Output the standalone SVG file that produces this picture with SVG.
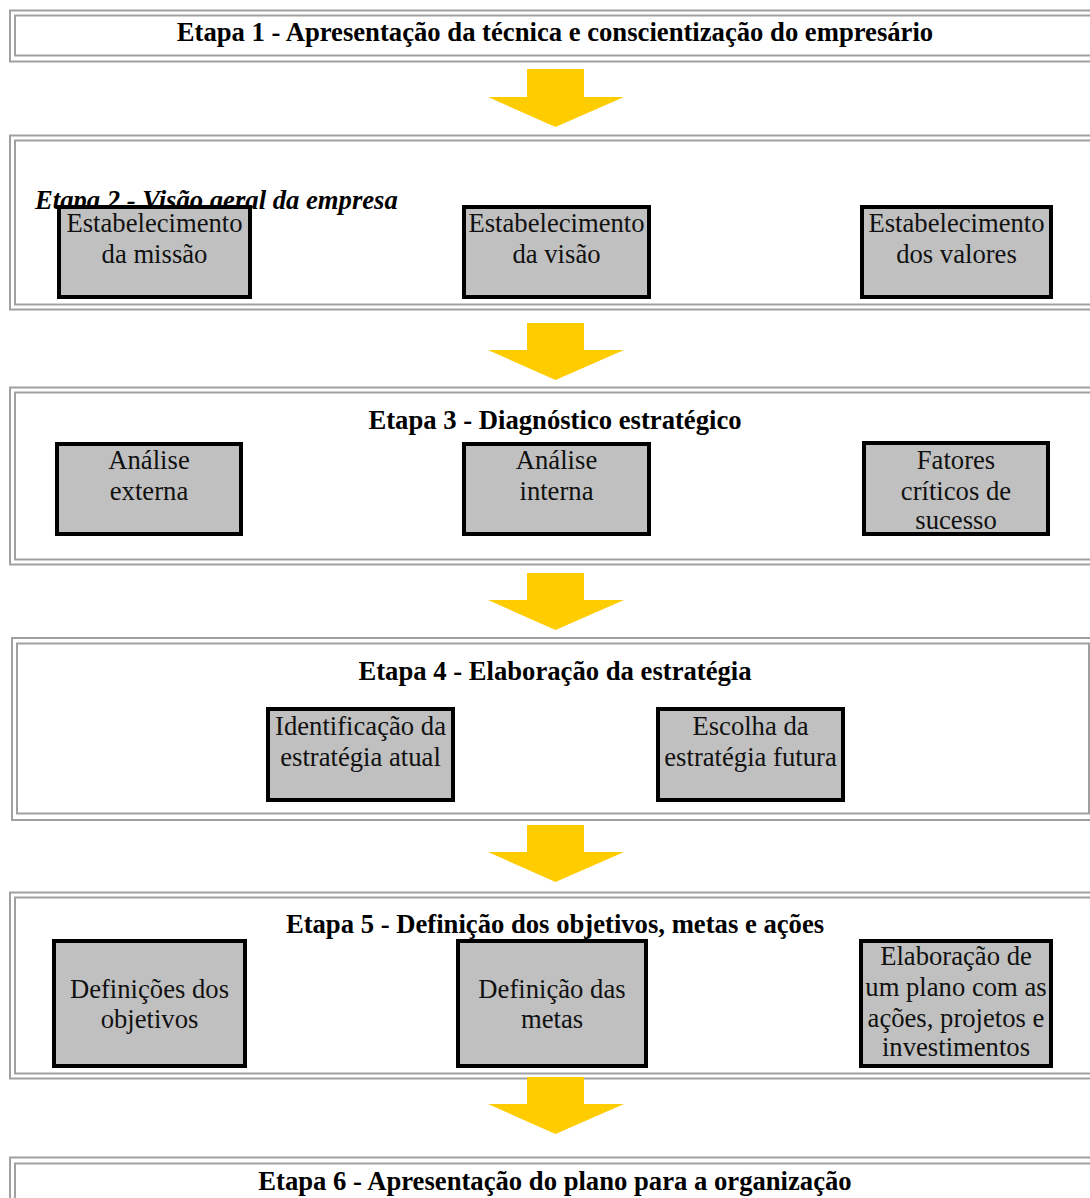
<svg xmlns="http://www.w3.org/2000/svg" width="1090" height="1198" viewBox="0 0 1090 1198">
<style>
.frame{fill:none;stroke:#a0a0a0;stroke-width:2}
.box{fill:#c0c0c0;stroke:#000;stroke-width:4}
.title{font-family:"Liberation Serif","Times New Roman",serif;font-size:26.67px;font-weight:bold;fill:#000;text-anchor:middle}
.t2{font-family:"Liberation Serif","Times New Roman",serif;font-size:26.67px;font-weight:bold;font-style:italic;fill:#000}
.lbl{font-family:"Liberation Serif","Times New Roman",serif;font-size:26.67px;fill:#111;text-anchor:middle}
.arrow{fill:#ffcc00}
</style>
<rect width="1090" height="1198" fill="#fff"/>
<g id="etapa1">
<rect class="frame" x="10" y="10.5" width="1090" height="51"/>
<rect class="frame" x="15" y="15.5" width="1090" height="40"/>
<text class="title" x="555" y="41">Etapa 1 - Apresentação da técnica e conscientização do empresário</text>
</g>
<g id="etapa2">
<rect class="frame" x="10" y="135.5" width="1090" height="174"/>
<rect class="frame" x="15" y="140.5" width="1090" height="164"/>
<text class="t2" x="35" y="209">Etapa 2 - Visão geral da empresa</text>
</g>
<g id="missao">
<rect class="box" x="59" y="207" width="191" height="90"/>
<text class="lbl" x="154.5" y="232">Estabelecimento</text>
<text class="lbl" x="154.5" y="263">da missão</text>
</g>
<g id="visao">
<rect class="box" x="464" y="207" width="185" height="90"/>
<text class="lbl" x="556.5" y="232">Estabelecimento</text>
<text class="lbl" x="556.5" y="263">da visão</text>
</g>
<g id="valores">
<rect class="box" x="862" y="207" width="189" height="90"/>
<text class="lbl" x="956.5" y="232">Estabelecimento</text>
<text class="lbl" x="956.5" y="263">dos valores</text>
</g>
<g id="etapa3">
<rect class="frame" x="10" y="387.5" width="1090" height="177"/>
<rect class="frame" x="15" y="392.5" width="1090" height="167"/>
<text class="title" x="555" y="429">Etapa 3 - Diagnóstico estratégico</text>
</g>
<g id="externa">
<rect class="box" x="57" y="444" width="184" height="90"/>
<text class="lbl" x="149" y="469">Análise</text>
<text class="lbl" x="149" y="500">externa</text>
</g>
<g id="interna">
<rect class="box" x="464" y="444" width="185" height="90"/>
<text class="lbl" x="556.5" y="469">Análise</text>
<text class="lbl" x="556.5" y="500">interna</text>
</g>
<g id="fatores">
<rect class="box" x="864" y="443" width="184" height="91"/>
<text class="lbl" x="956" y="469">Fatores</text>
<text class="lbl" x="956" y="500">críticos de</text>
<text class="lbl" x="956" y="529">sucesso</text>
</g>
<g id="etapa4">
<rect class="frame" x="12" y="638" width="1090" height="182"/>
<rect class="frame" x="17" y="643.5" width="1072" height="170"/>
<text class="title" x="555" y="680">Etapa 4 - Elaboração da estratégia</text>
</g>
<g id="atual">
<rect class="box" x="268" y="709" width="185" height="91"/>
<text class="lbl" x="360.5" y="735">Identificação da</text>
<text class="lbl" x="360.5" y="766">estratégia atual</text>
</g>
<g id="futura">
<rect class="box" x="658" y="709" width="185" height="91"/>
<text class="lbl" x="750.5" y="735">Escolha da</text>
<text class="lbl" x="750.5" y="766">estratégia futura</text>
</g>
<g id="etapa5">
<rect class="frame" x="10" y="892.5" width="1090" height="186"/>
<rect class="frame" x="15" y="897.5" width="1090" height="176"/>
<text class="title" x="555" y="933">Etapa 5 - Definição dos objetivos, metas e ações</text>
</g>
<g id="objetivos">
<rect class="box" x="54" y="941" width="191" height="125"/>
<text class="lbl" x="149.5" y="998">Definições dos</text>
<text class="lbl" x="149.5" y="1028">objetivos</text>
</g>
<g id="metas">
<rect class="box" x="458" y="941" width="188" height="125"/>
<text class="lbl" x="552" y="998">Definição das</text>
<text class="lbl" x="552" y="1028">metas</text>
</g>
<g id="plano">
<rect class="box" x="861" y="941" width="190" height="125"/>
<text class="lbl" x="956" y="965">Elaboração de</text>
<text class="lbl" x="956" y="996">um plano com as</text>
<text class="lbl" x="956" y="1027">ações, projetos e</text>
<text class="lbl" x="956" y="1056">investimentos</text>
</g>
<g id="etapa6">
<rect class="frame" x="10" y="1157.5" width="1090" height="60"/>
<rect class="frame" x="15" y="1163.5" width="1090" height="60"/>
<text class="title" x="555" y="1190">Etapa 6 - Apresentação do plano para a organização</text>
</g>
<g id="connectors">
<polygon class="arrow" points="527,69 584,69 584,97 624,97 555.5,127 488,97 527,97"/>
<polygon class="arrow" points="527,323 584,323 584,350 624,350 555.5,380 488,350 527,350"/>
<polygon class="arrow" points="527,573 584,573 584,600 624,600 555.5,630 488,600 527,600"/>
<polygon class="arrow" points="527,825 584,825 584,852 624,852 555.5,882 488,852 527,852"/>
<polygon class="arrow" points="527,1077 584,1077 584,1104 624,1104 555.5,1134 488,1104 527,1104"/>
</g>
</svg>
